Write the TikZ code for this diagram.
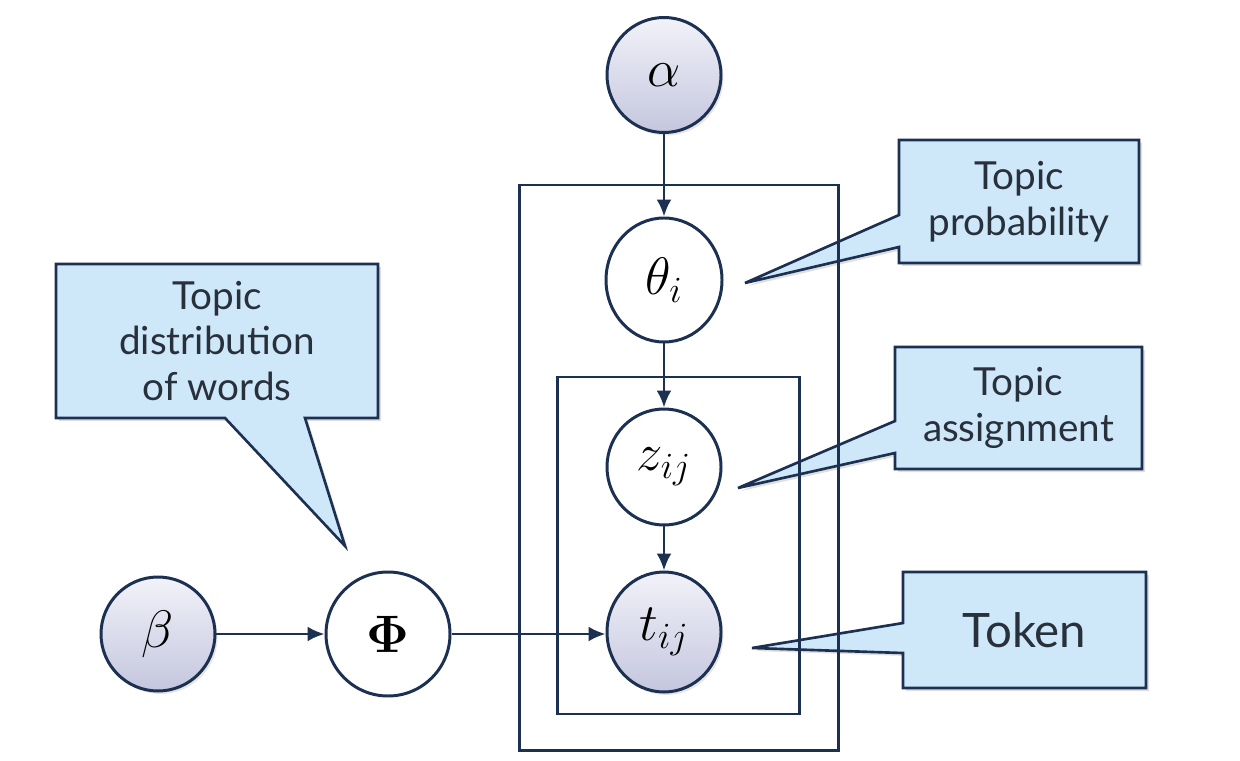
\RequirePackage{fix-cm}
\documentclass[tikz,border=0pt]{standalone}
\usepackage{amsmath}
\usepackage{fontspec}
\setsansfont{Lato}
\usetikzlibrary{shapes.geometric,shapes.callouts,arrows.meta,shadows}

\definecolor{navy}{RGB}{28,48,82}
\definecolor{noteblue}{RGB}{206,232,250}
\definecolor{notetext}{RGB}{40,48,60}
\definecolor{shadetop}{RGB}{242,242,249}
\definecolor{shadebot}{RGB}{196,198,222}

\tikzset{
  latent/.style={ellipse, draw=navy, line width=1.7pt, fill=white, inner sep=0pt,
    font=\fontsize{30}{34}\selectfont},
  observed/.style={latent, top color=shadetop, bottom color=shadebot,
    drop shadow={opacity=0.2,shadow xshift=0.05,shadow yshift=-0.06}},
  plate/.style={draw=navy, line width=1.7pt},
  edge/.style={-{Latex[length=3.4mm,width=3mm]}, draw=navy, line width=1.5pt},
  note/.style={rectangle callout, draw=navy, line width=1.5pt, fill=noteblue,
    align=center, text=notetext, inner sep=0pt,
    font=\sffamily\fontsize{22}{26}\selectfont,
    drop shadow={opacity=0.25,shadow xshift=0.06,shadow yshift=-0.06}}
}

\begin{document}
\begin{tikzpicture}
            \useasboundingbox (0,0) rectangle (24.8,-15.22);
            % callouts
            \node[note, minimum width=6.44cm, minimum height=3.08cm,
                  callout pointer width=1.6cm,
                  callout absolute pointer={(6.9,-10.92)}] (distnote) at (4.34,-6.82)
                  {Topic\\distribution\\of words};
            \node[note, minimum width=4.8cm, minimum height=2.46cm,
                  callout pointer width=0.64cm,
                  callout absolute pointer={(14.9,-5.66)}] (probnote) at (20.38,-4.03)
                  {Topic\\probability};
            \node[note, minimum width=4.94cm, minimum height=2.44cm,
                  callout pointer width=0.64cm,
                  callout absolute pointer={(14.76,-9.76)}] (assignnote) at (20.37,-8.16)
                  {Topic\\assignment};
            \node[note, minimum width=4.86cm, minimum height=2.32cm,
                  callout pointer width=0.6cm, font=\sffamily\fontsize{27}{30}\selectfont,
                  callout absolute pointer={(15.04,-12.96)}] (tokennote) at (20.49,-12.6)
                  {Token};
            % plates
            \draw[plate] (10.38,-3.7) rectangle (16.76,-15.0);
            \draw[plate] (11.14,-7.54) rectangle (15.98,-14.28);
            % variables
            \node[observed, minimum width=2.28cm, minimum height=2.3cm] (alpha) at (13.28,-1.5) {$\alpha$};
            \node[latent, minimum width=2.32cm, minimum height=2.48cm] (theta) at (13.28,-5.6) {$\theta_i$};
            \node[latent, minimum width=2.28cm, minimum height=2.32cm] (z) at (13.28,-9.34) {$z_{ij}$};
            \node[observed, minimum width=2.28cm, minimum height=2.4cm] (t) at (13.28,-12.64) {$t_{ij}$};
            \node[observed, minimum width=2.28cm, minimum height=2.28cm] (beta) at (3.16,-12.68) {$\beta$};
            \node[latent, minimum width=2.48cm, minimum height=2.48cm] (phi) at (7.76,-12.68) {$\boldsymbol{\Phi}$};
            % arrows
            \draw[edge] (alpha) -- (theta);
            \draw[edge] (theta) -- (z);
            \draw[edge] (z) -- (t);
            \draw[edge] (beta) -- (phi);
            \draw[edge] (phi.east) -- (phi.east -| t.west);
\end{tikzpicture}
\end{document}
